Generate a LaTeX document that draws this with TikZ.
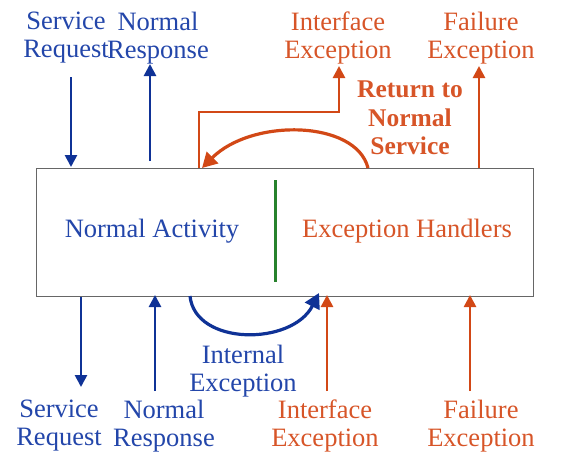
\documentclass[tikz,border=0pt]{standalone}
\usepackage{fontspec}
\setmainfont{Liberation Serif}
\usetikzlibrary{arrows.meta}
\definecolor{txtblue}{RGB}{35,70,170}
\definecolor{arrblue}{RGB}{15,50,150}
\definecolor{txtorange}{RGB}{215,85,40}
\definecolor{arrorange}{RGB}{210,72,22}
\definecolor{divgreen}{RGB}{40,130,45}
\begin{document}
\begin{tikzpicture}[x=1pt,y=-1pt,
  lbl/.style={align=center,inner sep=0pt,font=\fontsize{26.5}{28}\selectfont},
  bluelbl/.style={lbl,text=txtblue},
  orlbl/.style={lbl,text=txtorange},
  barr/.style={draw=arrblue,line width=2.6pt,-{Triangle[length=12pt,width=12pt]}},
  oarr/.style={draw=arrorange,line width=2.6pt,-{Triangle[length=12pt,width=12pt]}},
  barrc/.style={draw=arrblue,line width=3.2pt,-{Triangle[length=15pt,width=16pt]}},
  oarrc/.style={draw=arrorange,line width=3.2pt,-{Triangle[length=15pt,width=16pt]}},
  boxst/.style={draw=black!60,line width=1.3pt,fill=white}]
\useasboundingbox (0,0) rectangle (584,458);
% main box
\node[boxst,minimum width=497pt,minimum height=128pt,inner sep=0pt,anchor=north west] (box) at (36,168) {};
\draw[divgreen,line width=3pt] (275,180) -- (275,282);
\node[bluelbl] (na) at (152,231) {Normal Activity};
\node[orlbl] (eh) at (407,231) {Exception Handlers};
% top labels
\node[bluelbl] (tsr) at (66,38) {Service\\Request};
\node[bluelbl] (tnr) at (158,38) {Normal\\Response};
\node[orlbl] (tie) at (338,38) {Interface\\Exception};
\node[orlbl] (tfe) at (481,38) {Failure\\Exception};
\node[lbl,text=txtorange,font=\bfseries\fontsize{25.5}{28.5}\selectfont] (ret) at (410,118) {Return to\\Normal\\Service};
% bottom labels
\node[bluelbl] (bsr) at (59,426) {Service\\Request};
\node[bluelbl] (bnr) at (164,426) {Normal\\Response};
\node[bluelbl] (bie) at (243,371) {Internal\\Exception};
\node[orlbl] (bif) at (325,426) {Interface\\Exception};
\node[orlbl] (bfe) at (481,426) {Failure\\Exception};
% coordinates
\coordinate (a1s) at (71,77);   \coordinate (a1e) at (71,167);
\coordinate (a2s) at (150,161); \coordinate (a2e) at (150,64);
\coordinate (a3s) at (199,168); \coordinate (a3e) at (339,66);
\coordinate (a4s) at (479,168); \coordinate (a4e) at (479,66);
\coordinate (r1s) at (368,168); \coordinate (r1e) at (202,168);
\coordinate (b1s) at (81,297);  \coordinate (b1e) at (81,387);
\coordinate (b2s) at (155,391); \coordinate (b2e) at (155,295);
\coordinate (b3s) at (327,391); \coordinate (b3e) at (327,295);
\coordinate (b4s) at (470,391); \coordinate (b4e) at (470,295);
\coordinate (c1s) at (190,296); \coordinate (c1e) at (319,293);
% top arrows
\draw[barr] (a1s) -- (a1e);
\draw[barr] (a2s) -- (a2e);
\draw[oarr] (a3s) |- (339,112) -- (a3e);
\draw[oarr] (a4s) -- (a4e);
\draw[oarrc] (r1s) .. controls (356,120) and (252,118) .. (r1e);
% bottom arrows
\draw[barr] (b1s) -- (b1e);
\draw[barr] (b2s) -- (b2e);
\draw[oarr] (b3s) -- (b3e);
\draw[oarr] (b4s) -- (b4e);
\draw[barrc] (c1s) .. controls (195,346) and (292,346) .. (c1e);
\end{tikzpicture}
\end{document}
